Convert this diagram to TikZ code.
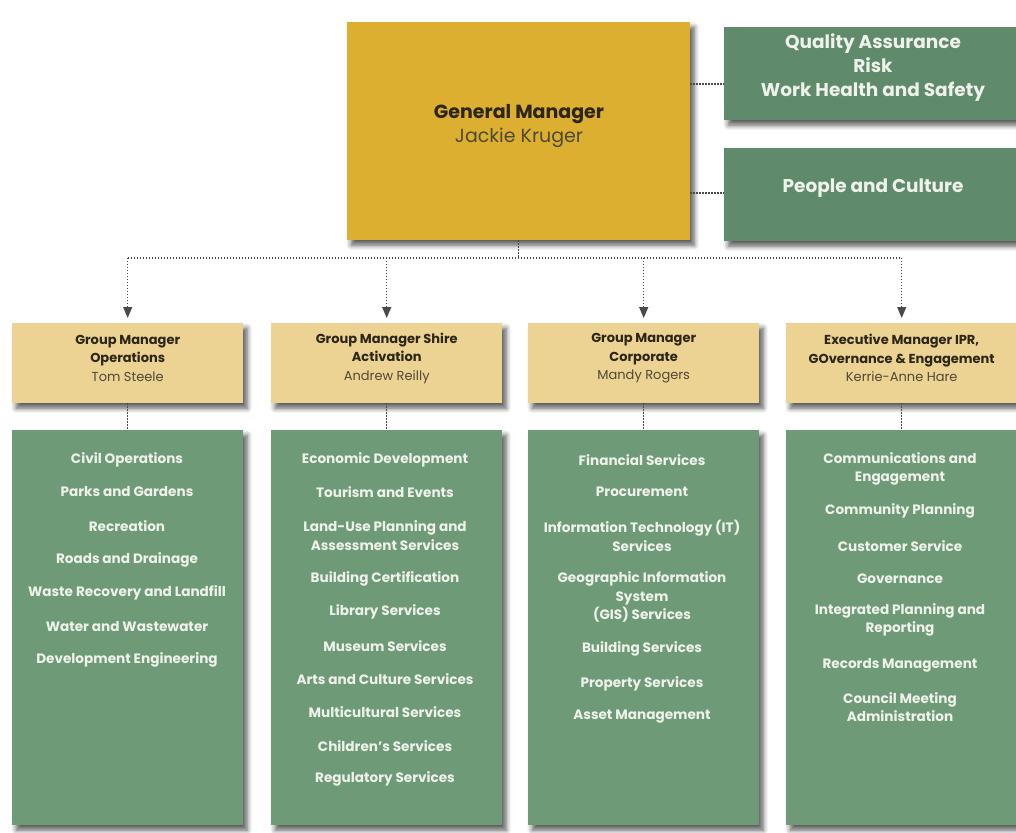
\documentclass[tikz,border=0pt]{standalone}
\usepackage{fontspec}
\setmainfont{Poppins}
\usetikzlibrary{arrows.meta,shadows.blur,positioning}
\definecolor{gmgold}{HTML}{DCAF30}
\definecolor{topgreen}{HTML}{5F8A6B}
\definecolor{mgrtan}{HTML}{ECD293}
\definecolor{colgreen}{HTML}{6E9A78}
\definecolor{lighttext}{HTML}{EEF2EA}
\definecolor{darktext}{HTML}{2B2616}
\definecolor{nametext}{HTML}{4F4936}
\definecolor{connector}{HTML}{4A4A4A}
\tikzset{
  shadowed/.style={blur shadow={shadow xshift=4pt, shadow yshift=-5pt,
      shadow blur radius=5pt, shadow blur steps=6, shadow opacity=65}},
  gmbox/.style={shadowed, fill=gmgold, anchor=north west, inner sep=0pt,
      minimum width=343pt, minimum height=218pt},
  sidebox/.style={shadowed, fill=topgreen, anchor=north west, inner sep=0pt,
      minimum width=300pt, minimum height=93pt},
  mgrbox/.style={shadowed, fill=mgrtan, anchor=north west, inner sep=0pt,
      minimum width=231pt, minimum height=80pt},
  colbox/.style={shadowed, fill=colgreen, anchor=north west, inner sep=0pt,
      minimum width=231pt, minimum height=395pt},
  dotline/.style={draw=connector, line width=1.3pt, dash pattern=on 1.4pt off 1.6pt},
  tiparrow/.style={-{Triangle[width=9pt,length=11pt]}, shorten >=5pt},
  sidelabel/.style={text=lighttext, font=\fontsize{18.5}{24}\selectfont\bfseries, align=center},
  mgrlabel/.style={align=center, font=\fontsize{13}{18.5}\selectfont},
  item/.style={text=lighttext, font=\fontsize{13.6}{18.8}\selectfont\bfseries, align=center},
}
\begin{document}
\begin{tikzpicture}[x=1pt, y=-1pt]
\useasboundingbox (0,0) rectangle (1016,832);

% top level
\node[gmbox] (gm) at (347,22) {};
\node[align=center, font=\fontsize{19}{24}\selectfont] at (519,126)
  {\textcolor{darktext}{\bfseries General Manager}\\\textcolor{nametext}{Jackie Kruger}};
\node[sidebox] (qa) at (724,27) {};
\node[sidelabel] at (873,68) {Quality Assurance\\Risk\\Work Health and Safety};
\node[sidebox] (pc) at (724,148) {};
\node[sidelabel] at (873,188) {People and Culture};

\draw[dotline] (gm.east |- 0,84) -- (qa.west |- 0,84);
\draw[dotline] (gm.east |- 0,193) -- (pc.west |- 0,193);

% group managers
\node[mgrbox] (m1) at (12,323) {};
\node[mgrbox] (m2) at (271,323) {};
\node[mgrbox] (m3) at (528,323) {};
\node[mgrbox] (m4) at (786,323) {};
\node[mgrlabel] at ([yshift=5pt]m1.center) {\textcolor{darktext}{\bfseries Group Manager}\\\textcolor{darktext}{\bfseries Operations}\\\textcolor{nametext}{Tom Steele}};
\node[mgrlabel] at ([yshift=5pt]m2.center) {\textcolor{darktext}{\bfseries Group Manager Shire}\\\textcolor{darktext}{\bfseries Activation}\\\textcolor{nametext}{Andrew Reilly}};
\node[mgrlabel] at ([yshift=5pt]m3.center) {\textcolor{darktext}{\bfseries Group Manager}\\\textcolor{darktext}{\bfseries Corporate}\\\textcolor{nametext}{Mandy Rogers}};
\node[mgrlabel] at ([yshift=5pt]m4.center) {\textcolor{darktext}{\bfseries Executive Manager IPR,}\\\textcolor{darktext}{\bfseries GOvernance \& Engagement}\\\textcolor{nametext}{Kerrie-Anne Hare}};

% reporting lines
\coordinate (bus) at (519,258);
\draw[dotline] (gm.south) -- (gm.south |- bus);
\draw[dotline] (m1.north |- bus) -- (m4.north |- bus);
\foreach \m in {m1,m2,m3,m4}
  \draw[dotline, tiparrow] (\m.north |- bus) -- (\m.north);

% service columns
\node[colbox] (c1) at (12,430) {};
\node[colbox] (c2) at (271,430) {};
\node[colbox] (c3) at (528,430) {};
\node[colbox] (c4) at (786,430) {};
\foreach \m/\c in {m1/c1,m2/c2,m3/c3,m4/c4}
  \draw[dotline] (\m.south) -- (\c.north);

\foreach \t/\y in {Civil Operations/460, Parks and Gardens/492, Recreation/526,
    Roads and Drainage/560, Waste Recovery and Landfill/593,
    Water and Wastewater/627, Development Engineering/660}
  \node[item] at (127,\y) {\t};

\foreach \t/\y in {Economic Development/460, Tourism and Events/492,
    {Land-Use Planning and\\Assessment Services}/536, Building Certification/579,
    Library Services/612, Museum Services/646, Arts and Culture Services/679,
    Multicultural Services/712, Children's Services/746, Regulatory Services/779}
  \node[item] at (385,\y) {\t};

\foreach \t/\y in {Financial Services/460, Procurement/492,
    {Information Technology (IT)\\Services}/536,
    {Geographic Information\\System\\(GIS) Services}/597,
    Building Services/649, Property Services/684, Asset Management/717}
  \node[item] at (642,\y) {\t};

\foreach \t/\y in {{Communications and\\Engagement}/469, Community Planning/511,
    Customer Service/546, Governance/579, {Integrated Planning and\\Reporting}/620,
    Records Management/665, {Council Meeting\\Administration}/707}
  \node[item] at (900,\y) {\t};
\end{tikzpicture}
\end{document}
